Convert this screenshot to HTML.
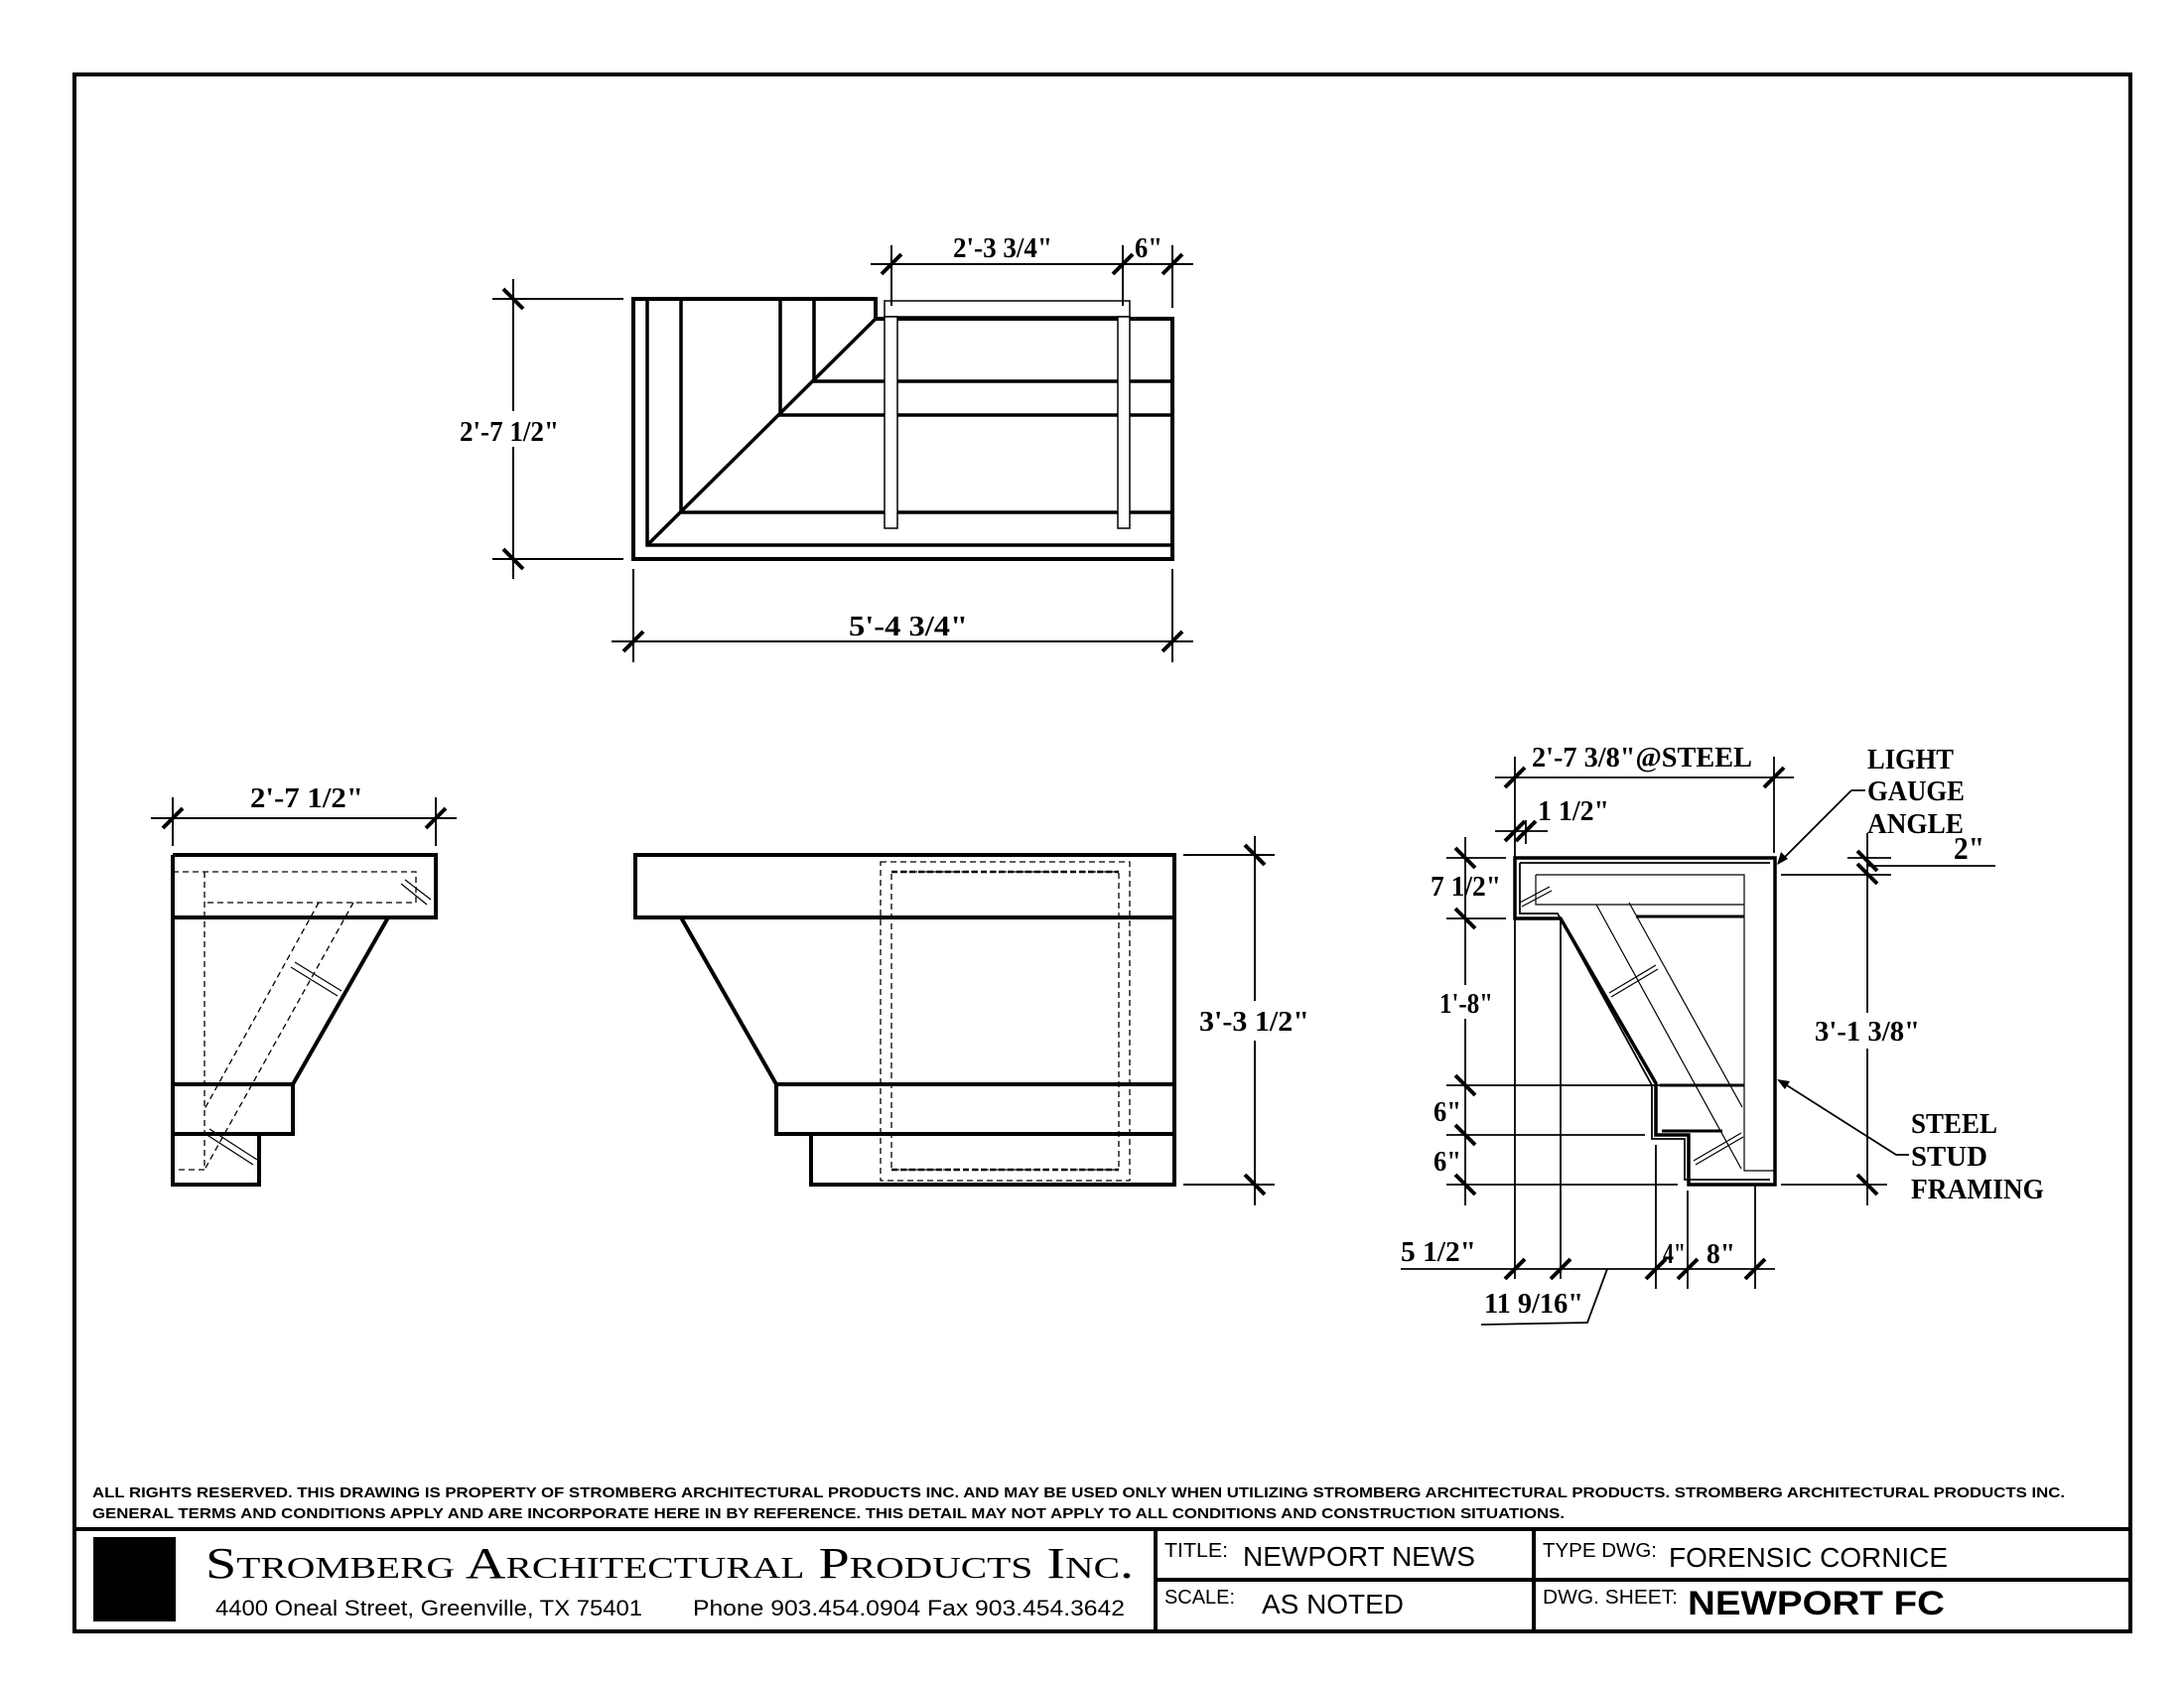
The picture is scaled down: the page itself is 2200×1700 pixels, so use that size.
<!DOCTYPE html>
<html><head><meta charset="utf-8"><style>
html,body{margin:0;padding:0;background:#fff;}
svg{display:block;}
.d{font-family:"Liberation Serif",serif;font-weight:bold;font-size:28px;fill:#000;}
.s{font-family:"Liberation Sans",sans-serif;fill:#000;}
</style></head><body>
<svg width="2200" height="1700" viewBox="0 0 2200 1700" xmlns="http://www.w3.org/2000/svg">
<rect x="0" y="0" width="2200" height="1700" fill="#fff"/>
<rect x="75" y="75" width="2071" height="1568" fill="none" stroke="#000" stroke-width="4"/>

<!-- TOP VIEW -->
<g stroke="#000" fill="none">
<path d="M638,301 H882 V321 H1181 V563 H638 Z" stroke-width="4"/>
<g stroke-width="3.5">
<path d="M652,301 V549 H1181"/>
<path d="M686,301 V516 H1181"/>
<path d="M786,301 V418 H1181"/>
<path d="M820,301 V384 H1181"/>
<path d="M652,549 L882,321"/>
</g>
<g fill="#fff" stroke-width="1.5">
<rect x="891" y="303" width="247" height="16"/>
<rect x="891" y="319" width="13" height="213"/>
<rect x="1126" y="319" width="12" height="213"/>
</g>
<g stroke-width="2">
<path d="M517,281 V583 M496,301 H628 M496,563 H628"/>
<path d="M877,266 H1202 M898,247 V308 M1131,247 V308 M1181,247 V310"/>
<path d="M616,646 H1202 M638,573 V667 M1181,573 V667"/>
</g>
<g stroke-width="4">
<path d="M507,291 L527,311 M507,553 L527,573"/>
<path d="M888,276 L908,256 M1121,276 L1141,256 M1171,276 L1191,256"/>
<path d="M628,656 L648,636 M1171,656 L1191,636"/>
</g>
</g>
<rect x="460" y="414" width="106" height="36" fill="#fff"/>
<text class="d" x="463" y="444" textLength="100" lengthAdjust="spacingAndGlyphs">2'-7 1/2"</text>
<text class="d" x="960" y="259" textLength="100" lengthAdjust="spacingAndGlyphs">2'-3 3/4"</text>
<text class="d" x="1143" y="259" textLength="28" lengthAdjust="spacingAndGlyphs">6"</text>
<text class="d" x="855" y="640" textLength="120" lengthAdjust="spacingAndGlyphs">5'-4 3/4"</text>

<!-- LEFT VIEW -->
<g stroke="#000" fill="none">
<path d="M174,861 H439 V924 H174 M391,924 L295,1092 M174,1092 H295 V1142 H174 M174,1142 H261 V1193 H174 Z M174,861 V1193" stroke-width="4"/>
<g stroke-width="1.3" stroke-dasharray="6,4">
<path d="M174,878 H419 V909 H206 M206,878 V1178 H174"/>
<path d="M321,909 L206,1117 M356,909 L206,1178"/>
</g>
<g stroke-width="1.2">
<path d="M404,890 L430,911 M408,886 L434,906"/>
<path d="M293,974 L340,1003 M297,969 L344,998"/>
<path d="M207,1142 L255,1173 M211,1137 L259,1168"/>
</g>
<path d="M152,824 H460 M174,803 V852 M439,803 V852" stroke-width="2"/>
<path d="M164,834 L184,814 M429,834 L449,814" stroke-width="4"/>
</g>
<text class="d" x="252" y="813" textLength="114" lengthAdjust="spacingAndGlyphs">2'-7 1/2"</text>

<!-- MIDDLE VIEW -->
<g stroke="#000" fill="none">
<path d="M640,861 H1183 V924 H640 Z M686,924 L782,1092 M782,1092 H1183 V1142 H782 Z M817,1142 H1183 V1193 H817 Z M1183,861 V1193" stroke-width="4"/>
<g stroke-width="1.3" stroke-dasharray="6,4">
<rect x="887" y="868" width="251" height="321"/>
<rect x="898" y="878" width="229" height="300"/>
</g>
<path d="M898,878 H1127 M898,1178 H1127" stroke-width="2.5" stroke-dasharray="6,3"/>
<path d="M1264,842 V1214 M1192,861 H1284 M1192,1193 H1284" stroke-width="2"/>
<path d="M1254,851 L1274,871 M1254,1183 L1274,1203" stroke-width="4"/>
</g>
<rect x="1206" y="1008" width="116" height="40" fill="#fff"/>
<text class="d" x="1208" y="1038" textLength="111" lengthAdjust="spacingAndGlyphs">3'-3 1/2"</text>

<!-- RIGHT SECTION -->
<g stroke="#000" fill="none">
<path d="M1526,864 H1788 V1193 H1701 V1143 H1668 V1091 L1572,925 H1526 Z" stroke-width="3.5"/>
<path d="M1531,869 H1783 M1531,869 V920 H1569 L1664,1093 V1147 H1697 V1188 H1783" stroke-width="1.8"/>
<g stroke-width="1.2">
<path d="M1547,881 H1757 V1179 H1788 M1547,881 V911 H1757"/>
<path d="M1608,911 L1754,1177 M1641,909 L1755,1115"/>
<path d="M1531,909 L1561,893 M1533,913 L1563,897"/>
<path d="M1621,1000 L1668,972 M1623,1004 L1670,976"/>
<path d="M1706,1169 L1754,1141 M1708,1173 L1756,1145"/>
</g>
<path d="M1648,923 H1757 M1672,1093 H1757 M1674,1139 H1735" stroke-width="3"/>
<g stroke-width="1.8">
<path d="M1506,783 H1807 M1526,762 V1288 M1787,762 V859"/>
<path d="M1506,837 H1559 M1537,826 V850"/>
<path d="M1476,843 V1214 M1457,864 H1517 M1457,925 H1517 M1457,1093 H1672 M1457,1143 H1657 M1457,1193 H1690"/>
<path d="M1881,839 V1214 M1861,864 H1905 M1881,872 H2010 M1794,881 H1905 M1794,1193 H1901"/>
<path d="M1411,1278 H1788 M1572,927 V1288 M1668,1153 V1298 M1700,1199 V1298 M1768,1193 V1298"/>
<path d="M1619,1278 L1599,1332 L1492,1334"/>
<path d="M1865,796 H1879 M1865,796 L1792,869"/>
<path d="M1923,1163 H1910 L1792,1088"/>
</g>
<g stroke-width="4">
<path d="M1516,793 L1536,773 M1777,793 L1797,773"/>
<path d="M1516,847 L1536,827 M1527,847 L1547,827"/>
<path d="M1466,854 L1486,874 M1466,915 L1486,935 M1466,1083 L1486,1103 M1466,1133 L1486,1153 M1466,1183 L1486,1203"/>
<path d="M1871,857 L1891,877 M1871,870 L1891,890 M1871,1183 L1891,1203"/>
<path d="M1516,1288 L1536,1268 M1562,1288 L1582,1268 M1658,1288 L1678,1268 M1690,1288 L1710,1268 M1758,1288 L1778,1268"/>
</g>
</g>
<path d="M1790,871 L1794,858 L1801,865 Z" fill="#000"/>
<path d="M1790,1087 L1803,1089 L1798,1097 Z" fill="#000"/>
<text class="d" x="1543" y="772" textLength="222" lengthAdjust="spacingAndGlyphs">2'-7 3/8"@STEEL</text>
<text class="d" x="1549" y="826" textLength="72" lengthAdjust="spacingAndGlyphs">1 1/2"</text>
<text class="d" x="1441" y="902" textLength="71" lengthAdjust="spacingAndGlyphs">7 1/2"</text>
<rect x="1446" y="992" width="62" height="34" fill="#fff"/>
<text class="d" x="1450" y="1020" textLength="54" lengthAdjust="spacingAndGlyphs">1'-8"</text>
<text class="d" x="1444" y="1129" textLength="28" lengthAdjust="spacingAndGlyphs">6"</text>
<text class="d" x="1444" y="1179" textLength="28" lengthAdjust="spacingAndGlyphs">6"</text>
<text class="d" x="1968" y="865" style="font-size:32px" textLength="31" lengthAdjust="spacingAndGlyphs">2"</text>
<rect x="1825" y="1020" width="112" height="36" fill="#fff"/>
<text class="d" x="1828" y="1048" textLength="106" lengthAdjust="spacingAndGlyphs">3'-1 3/8"</text>
<text class="d" x="1881" y="774" textLength="87" lengthAdjust="spacingAndGlyphs">LIGHT</text>
<text class="d" x="1881" y="806" textLength="98" lengthAdjust="spacingAndGlyphs">GAUGE</text>
<text class="d" x="1881" y="839" textLength="97" lengthAdjust="spacingAndGlyphs">ANGLE</text>
<text class="d" x="1925" y="1141" textLength="87" lengthAdjust="spacingAndGlyphs">STEEL</text>
<text class="d" x="1925" y="1174" textLength="77" lengthAdjust="spacingAndGlyphs">STUD</text>
<text class="d" x="1925" y="1207" textLength="134" lengthAdjust="spacingAndGlyphs">FRAMING</text>
<text class="d" x="1411" y="1270" textLength="76" lengthAdjust="spacingAndGlyphs">5 1/2"</text>
<text class="d" x="1675" y="1272" textLength="23" lengthAdjust="spacingAndGlyphs">4"</text>
<text class="d" x="1719" y="1272" textLength="29" lengthAdjust="spacingAndGlyphs">8"</text>
<text class="d" x="1495" y="1322" textLength="100" lengthAdjust="spacingAndGlyphs">11 9/16"</text>

<!-- TITLE BLOCK -->
<text class="s" x="93" y="1508" style="font-size:15px;font-weight:bold" textLength="1987" lengthAdjust="spacingAndGlyphs">ALL RIGHTS RESERVED. THIS DRAWING IS PROPERTY OF STROMBERG ARCHITECTURAL PRODUCTS INC. AND MAY BE USED ONLY WHEN UTILIZING STROMBERG ARCHITECTURAL PRODUCTS.  STROMBERG ARCHITECTURAL PRODUCTS INC.</text>
<text class="s" x="93" y="1529" style="font-size:15px;font-weight:bold" textLength="1483" lengthAdjust="spacingAndGlyphs">GENERAL TERMS AND CONDITIONS APPLY AND ARE INCORPORATE HERE IN BY REFERENCE.  THIS DETAIL MAY NOT APPLY TO ALL CONDITIONS AND CONSTRUCTION SITUATIONS.</text>
<g stroke="#000" stroke-width="4">
<path d="M75,1540 H2146 M1164,1591 H2146 M1164,1540 V1643 M1545,1540 V1643"/>
</g>
<rect x="94" y="1548" width="83" height="85" fill="#000"/>
<text x="207" y="1589" style="font-family:'Liberation Serif',serif;font-size:44px;font-variant:small-caps" textLength="935" lengthAdjust="spacingAndGlyphs">Stromberg Architectural Products Inc.</text>
<text class="s" x="217" y="1627" style="font-size:22px" textLength="430" lengthAdjust="spacingAndGlyphs">4400 Oneal Street, Greenville, TX  75401</text>
<text class="s" x="698" y="1627" style="font-size:22px" textLength="435" lengthAdjust="spacingAndGlyphs">Phone 903.454.0904  Fax 903.454.3642</text>
<text class="s" x="1173" y="1568" style="font-size:20px" textLength="64" lengthAdjust="spacingAndGlyphs">TITLE:</text>
<text class="s" x="1252" y="1577" style="font-size:28px" textLength="234" lengthAdjust="spacingAndGlyphs">NEWPORT NEWS</text>
<text class="s" x="1554" y="1568" style="font-size:20px" textLength="115" lengthAdjust="spacingAndGlyphs">TYPE DWG:</text>
<text class="s" x="1681" y="1578" style="font-size:28px" textLength="281" lengthAdjust="spacingAndGlyphs">FORENSIC CORNICE</text>
<text class="s" x="1173" y="1615" style="font-size:20px" textLength="71" lengthAdjust="spacingAndGlyphs">SCALE:</text>
<text class="s" x="1271" y="1625" style="font-size:28px" textLength="143" lengthAdjust="spacingAndGlyphs">AS NOTED</text>
<text class="s" x="1554" y="1615" style="font-size:20px" textLength="136" lengthAdjust="spacingAndGlyphs">DWG. SHEET:</text>
<text class="s" x="1700" y="1626" style="font-size:34px;font-weight:bold" textLength="259" lengthAdjust="spacingAndGlyphs">NEWPORT FC</text>
</svg>
</body></html>
